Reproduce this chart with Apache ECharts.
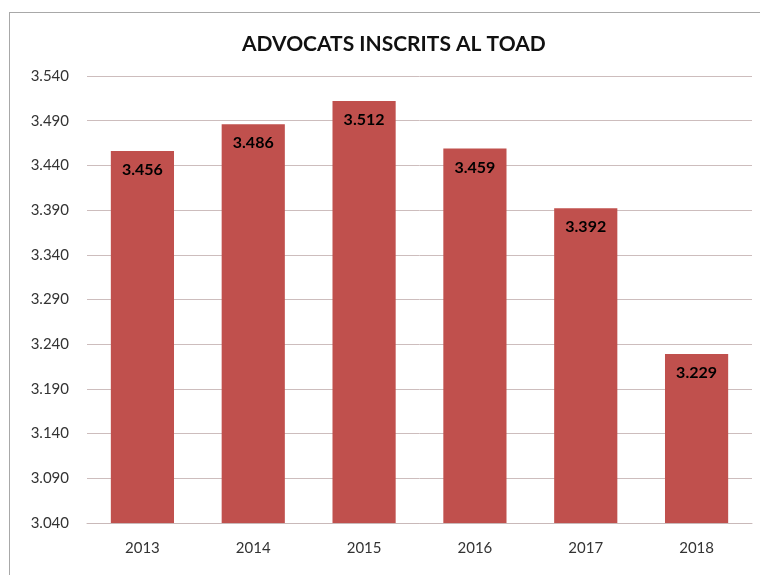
<!DOCTYPE html>
<html>
<head>
<meta charset="utf-8">
<script src="https://cdn.jsdelivr.net/npm/echarts@6/dist/echarts.min.js"></script>
<style>
  html, body { margin: 0; padding: 0; background: #fff; overflow: hidden; width: 760px; height: 575px; }
  #frame { position: absolute; left: 9px; top: 12px; width: 800px; height: 600px; border: 1px solid #a8a8a8; }
  #chart1 { position: absolute; left: 0; top: 0; width: 760px; height: 575px; }
</style>
</head>
<body>
<div id="frame"></div>
<div id="chart1"></div>
<script>
const years = ['2013', '2014', '2015', '2016', '2017', '2018']
const advocats = [3456, 3486, 3512, 3459, 3392, 3229]
const yMin = 3040
const yMax = 3540
const yStep = 50

// 3456 -> "3.456"
function fmt (v) {
  return String(v).replace(/\B(?=(\d{3})+(?!\d))/g, '.')
}

let charts = echarts.init(document.getElementById('chart1'))
let option = {
  animation: false,
  title: {
    text: 'ADVOCATS INSCRITS AL TOAD',
    left: 237,
    top: 29,
    textStyle: {
      fontFamily: 'Lato',
      fontSize: 21,
      fontWeight: 'bold',
      color: '#111'
    }
  },
  grid: {
    left: 87,
    right: 8,
    top: 76,
    bottom: 52
  },
  xAxis: {
    type: 'category',
    data: years,
    axisTick: { show: false },
    axisLine: { lineStyle: { color: '#c9b9b9' } },
    axisLabel: {
      margin: 18,
      fontFamily: 'Lato',
      fontSize: 15,
      color: '#333'
    }
  },
  yAxis: {
    type: 'value',
    min: yMin,
    max: yMax,
    interval: yStep,
    axisLine: { show: false },
    axisTick: { show: false },
    splitLine: { lineStyle: { color: '#cdbdbd' } },
    axisLabel: {
      margin: 18,
      fontFamily: 'Lato',
      fontSize: 15,
      color: '#333',
      formatter: fmt
    }
  },
  series: [
    {
      type: 'bar',
      data: advocats,
      barWidth: '57%',
      itemStyle: { color: '#c0504d' },
      label: {
        show: true,
        position: 'insideTop',
        distance: 11,
        fontFamily: 'Lato',
        fontSize: 16,
        fontWeight: 'bold',
        color: '#000',
        formatter: function (p) { return fmt(p.value) }
      }
    }
  ]
}
charts.setOption(option)
</script>
</body>
</html>
